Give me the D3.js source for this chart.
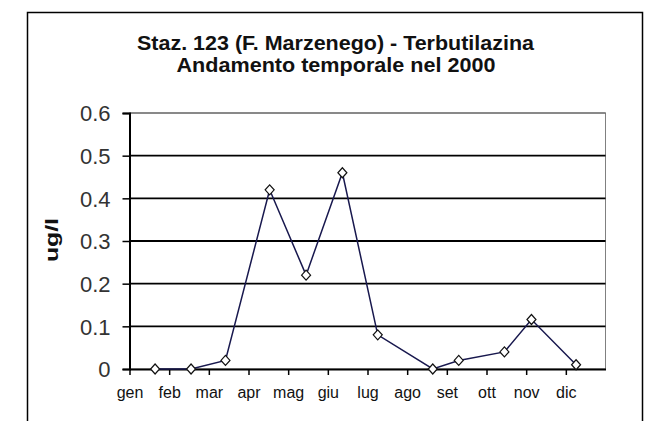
<!DOCTYPE html>
<html><head><meta charset="utf-8">
<script src="https://cdn.jsdelivr.net/npm/d3@7"></script>
<style>html,body{margin:0;padding:0;background:#fff;}svg{display:block;}</style>
</head><body>
<script>
// ---- data ----
const months = ["gen","feb","mar","apr","mag","giu","lug","ago","set","ott","nov","dic"];
const sampleDates = ["2000-01-21","2000-02-17","2000-03-14","2000-04-17","2000-05-15","2000-06-12",
                     "2000-07-09","2000-08-21","2000-09-10","2000-10-15","2000-11-05","2000-12-09"];
const values = [0, 0, 0.02, 0.42, 0.22, 0.46, 0.08, 0, 0.02, 0.04, 0.116, 0.01];
const yTicks = [0, 0.1, 0.2, 0.3, 0.4, 0.5, 0.6];
const titleLines = ["Staz. 123 (F. Marzenego) - Terbutilazina", "Andamento temporale nel 2000"];
const yTitle = "ug/l";

// ---- helpers ----
const parse = d3.timeParse("%Y-%m-%d");
function monthPos(s){
  const d = parse(s);
  const m0 = d3.timeMonth.floor(d), m1 = d3.timeMonth.offset(m0,1);
  return d.getMonth() + (d - m0)/(m1 - m0);
}

const W = 659, H = 421;
const svg = d3.select("body").append("svg").attr("width",W).attr("height",H);
svg.append("rect").attr("width",W).attr("height",H).attr("fill","#fff");

// outer chart border
svg.append("rect").attr("x",27.5).attr("y",12.5).attr("width",615).attr("height",430)
  .attr("fill","#fff").attr("stroke","#000").attr("stroke-width",1.5);

const L = 129.5, R = 605.5, T = 113, B = 369;
const x = d3.scaleLinear().domain([0,12]).range([L,R]);
const y = d3.scaleLinear().domain([0,0.6]).range([B,T]);

// plot area border (grey)
svg.append("rect").attr("x",L).attr("y",T).attr("width",R-L).attr("height",B-T)
  .attr("fill","none").attr("stroke","#808080").attr("stroke-width",1);

// gridlines
svg.append("g").selectAll("line").data(yTicks.filter(v=>v>0)).join("line")
  .attr("x1",L).attr("x2",R).attr("y1",d=>y(d)).attr("y2",d=>y(d))
  .attr("stroke",d=>d===0.6?"#555":"#000").attr("stroke-width",d=>d===0.6?1.2:1.8);

// y axis
const yAxis = d3.axisLeft(y).tickValues(yTicks).tickSize(7).tickPadding(12)
  .tickFormat(d=>d===0?"0":d3.format(".1f")(d));
const gy = svg.append("g").attr("transform",`translate(${L},0)`).call(yAxis);
gy.select(".domain").attr("stroke","#000").attr("stroke-width",2);
gy.selectAll(".tick line").attr("stroke","#000").attr("stroke-width",1.5);
gy.selectAll("text").attr("font-family","Liberation Sans, Arial, sans-serif")
  .attr("font-size",22).attr("fill","#333").attr("dy","0.36em");

// x axis
const xAxis = d3.axisBottom(x).tickValues(d3.range(0,12)).tickSize(6).tickSizeOuter(0)
  .tickFormat(i=>months[i]).tickPadding(12);
const gx = svg.append("g").attr("transform",`translate(0,${B})`).call(xAxis);
gx.select(".domain").attr("stroke","#000").attr("stroke-width",2);
gx.selectAll(".tick line").attr("stroke","#000").attr("stroke-width",1.5);
gx.selectAll("text").attr("font-family","Liberation Sans, Arial, sans-serif")
  .attr("font-size",16).attr("fill","#111").attr("dy","0.71em");

// series
const pts = sampleDates.map((s,i)=>({xp:monthPos(s), v:values[i]}));
svg.append("path").datum(pts)
  .attr("d", d3.line().x(d=>x(d.xp)).y(d=>y(d.v)))
  .attr("fill","none").attr("stroke","#18184e").attr("stroke-width",1.5);

const diamond = "M0,-5L4.5,0L0,5L-4.5,0Z";
svg.append("g").selectAll("path").data(pts).join("path")
  .attr("d",diamond)
  .attr("transform",d=>`translate(${x(d.xp)},${y(d.v)})`)
  .attr("fill","#fff").attr("stroke","#111").attr("stroke-width",1.2);

// titles
svg.append("text").attr("x",335.5).attr("y",49.5).attr("text-anchor","middle")
  .attr("font-family","Liberation Sans, Arial, sans-serif").attr("font-weight","bold")
  .attr("font-size",21).attr("fill","#111")
  .attr("textLength",397).attr("lengthAdjust","spacingAndGlyphs")
  .text(titleLines[0]);
svg.append("text").attr("x",336).attr("y",71.5).attr("text-anchor","middle")
  .attr("font-family","Liberation Sans, Arial, sans-serif").attr("font-weight","bold")
  .attr("font-size",21).attr("fill","#111")
  .attr("textLength",319).attr("lengthAdjust","spacingAndGlyphs")
  .text(titleLines[1]);

// y title
svg.append("text").attr("transform","translate(58,240) rotate(-90)")
  .attr("text-anchor","middle")
  .attr("font-family","Liberation Sans, Arial, sans-serif").attr("font-weight","bold")
  .attr("font-size",19).attr("fill","#111")
  .attr("textLength",44).attr("lengthAdjust","spacingAndGlyphs")
  .text(yTitle);
</script>
</body></html>
